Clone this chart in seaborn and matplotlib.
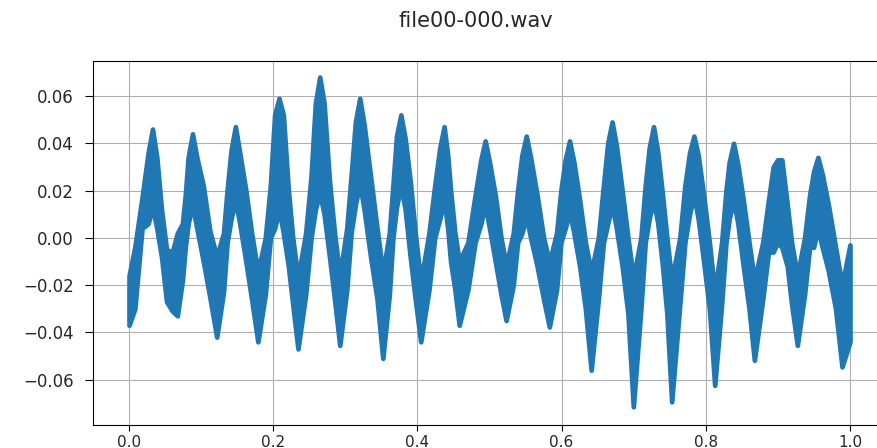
import matplotlib
matplotlib.use("Agg")
import matplotlib.pyplot as plt
import seaborn as sns
import pandas as pd

# key points of the waveform: time, top of trace, bottom of trace
t = [0.000, 0.008, 0.018, 0.0265, 0.0325, 0.0385, 0.045, 0.052, 0.060, 0.067, 0.074, 0.078,
     0.082, 0.088, 0.094, 0.103, 0.112, 0.1216, 0.131, 0.136,
     0.1415, 0.1475, 0.1535, 0.162, 0.170, 0.1787, 0.189, 0.196,
     0.202, 0.208, 0.214, 0.221, 0.227, 0.2343, 0.245, 0.2525,
     0.2585, 0.2645, 0.2705, 0.278, 0.285, 0.2923, 0.302, 0.308,
     0.314, 0.320, 0.326, 0.335, 0.344, 0.352, 0.361, 0.366,
     0.371, 0.377, 0.383, 0.390, 0.397, 0.4046, 0.416, 0.424,
     0.431, 0.437, 0.442, 0.446, 0.452, 0.458, 0.470, 0.480,
     0.488, 0.494, 0.500, 0.508, 0.516, 0.523, 0.533, 0.539,
     0.545, 0.551, 0.557, 0.566, 0.575, 0.583, 0.593, 0.599,
     0.605, 0.611, 0.617, 0.625, 0.633, 0.641, 0.651, 0.658,
     0.664, 0.670, 0.676, 0.684, 0.692, 0.6995, 0.710, 0.716,
     0.7215, 0.7275, 0.7335, 0.740, 0.746, 0.7527, 0.764, 0.771,
     0.7775, 0.7835, 0.7895, 0.797, 0.805, 0.8124, 0.822, 0.828,
     0.8325, 0.8385, 0.8445, 0.852, 0.860, 0.8674, 0.879, 0.887,
     0.8935, 0.8995, 0.9055, 0.913, 0.919, 0.927, 0.937, 0.944,
     0.9495, 0.9555, 0.9615, 0.970, 0.980, 0.989, 1.000]

upper = [-0.016, -0.004, 0.017, 0.036, 0.046, 0.034, 0.012, -0.005, -0.006, 0.002, 0.006, 0.018,
         0.034, 0.044, 0.034, 0.022, 0.003, -0.008, 0.002, 0.020,
         0.037, 0.047, 0.036, 0.020, 0.002, -0.0145, 0.000, 0.022,
         0.052, 0.059, 0.052, 0.020, 0.000, -0.017, 0.002, 0.026,
         0.057, 0.068, 0.057, 0.024, 0.002, -0.016, 0.004, 0.026,
         0.049, 0.059, 0.048, 0.026, 0.004, -0.015, 0.002, 0.022,
         0.043, 0.052, 0.042, 0.024, 0.002, -0.0187, 0.002, 0.022,
         0.038, 0.047, 0.035, 0.020, 0.002, -0.010, -0.002, 0.018,
         0.033, 0.041, 0.032, 0.018, 0.000, -0.0117, 0.002, 0.020,
         0.035, 0.043, 0.034, 0.018, 0.000, -0.0103, 0.002, 0.020,
         0.033, 0.041, 0.032, 0.016, -0.002, -0.0145, 0.000, 0.022,
         0.040, 0.049, 0.039, 0.020, 0.000, -0.017, 0.000, 0.022,
         0.038, 0.047, 0.036, 0.018, 0.000, -0.018, 0.000, 0.022,
         0.036, 0.043, 0.035, 0.018, -0.002, -0.023, -0.002, 0.020,
         0.032, 0.040, 0.031, 0.016, -0.002, -0.018, -0.002, 0.016,
         0.030, 0.033, 0.033, 0.014, -0.002, -0.016, 0.000, 0.018,
         0.028, 0.034, 0.027, 0.014, -0.004, -0.020, -0.003]

lower = [-0.037, -0.030, 0.004, 0.006, 0.013, 0.004, -0.008, -0.027, -0.031, -0.033, -0.018, -0.004,
         0.006, 0.014, 0.004, -0.010, -0.025, -0.042, -0.023, -0.002,
         0.008, 0.016, 0.006, -0.010, -0.026, -0.044, -0.024, 0.000,
         0.004, 0.012, 0.002, -0.012, -0.028, -0.047, -0.024, 0.000,
         0.012, 0.019, 0.010, -0.008, -0.026, -0.0455, -0.022, 0.002,
         0.014, 0.023, 0.012, -0.008, -0.026, -0.051, -0.024, 0.000,
         0.013, 0.022, 0.012, -0.008, -0.026, -0.044, -0.022, 0.000,
         0.008, 0.016, 0.004, -0.010, -0.022, -0.037, -0.022, -0.002,
         0.006, 0.014, 0.004, -0.010, -0.024, -0.035, -0.020, -0.002,
         0.002, 0.009, 0.000, -0.012, -0.026, -0.0377, -0.022, -0.002,
         0.004, 0.011, 0.002, -0.012, -0.030, -0.056, -0.026, -0.002,
         0.006, 0.014, 0.004, -0.012, -0.032, -0.0715, -0.030, -0.002,
         0.008, 0.016, 0.006, -0.012, -0.032, -0.0694, -0.028, -0.002,
         0.010, 0.018, 0.008, -0.010, -0.030, -0.0624, -0.028, -0.002,
         0.008, 0.016, 0.006, -0.012, -0.030, -0.0518, -0.026, -0.006,
         -0.006, -0.002, -0.004, -0.012, -0.028, -0.0455, -0.024, -0.004,
         -0.004, 0.004, -0.004, -0.014, -0.030, -0.0546, -0.044]

title = "file00-000.wav"
blue = "#1f77b4"

sns.set_style("ticks")
plt.rcParams['font.family'] = ['DejaVu Sans']
plt.rcParams['axes.edgecolor'] = 'black'
plt.rcParams['axes.linewidth'] = 0.8

# long table: each time has its top and bottom value -> min/max band
df = pd.DataFrame({"t": t + t, "amp": upper + lower})

fig = plt.figure(figsize=(8.77, 4.48), dpi=100)
ax = fig.add_axes([93 / 877, 23 / 448, 793 / 877, 364 / 448])

sns.lineplot(data=df, x="t", y="amp", ax=ax, color=blue, linewidth=1.5,
             errorbar=("pi", 100),
             err_kws={"alpha": 1, "linewidth": 3.4, "edgecolor": blue,
                      "joinstyle": "round"})

ax.set_xlim(-0.05, 1.05)
ax.set_ylim(-0.0792, 0.0748)
ax.set_xticks([0.0, 0.2, 0.4, 0.6, 0.8, 1.0])
ax.set_yticks([-0.06, -0.04, -0.02, 0.0, 0.02, 0.04, 0.06])
ax.set_xlabel("")
ax.set_ylabel("")
ax.grid(True, color="#b0b0b0", linewidth=0.8)
ax.tick_params(axis="y", length=5.8, pad=7.9, labelsize=12, color="black")
ax.tick_params(axis="x", length=4, pad=3, labelsize=11, color="black")

fig.text(476 / 877, 1 - 21 / 448, title, ha="center", va="center", fontsize=15)

fig.savefig("out.png", dpi=100)
